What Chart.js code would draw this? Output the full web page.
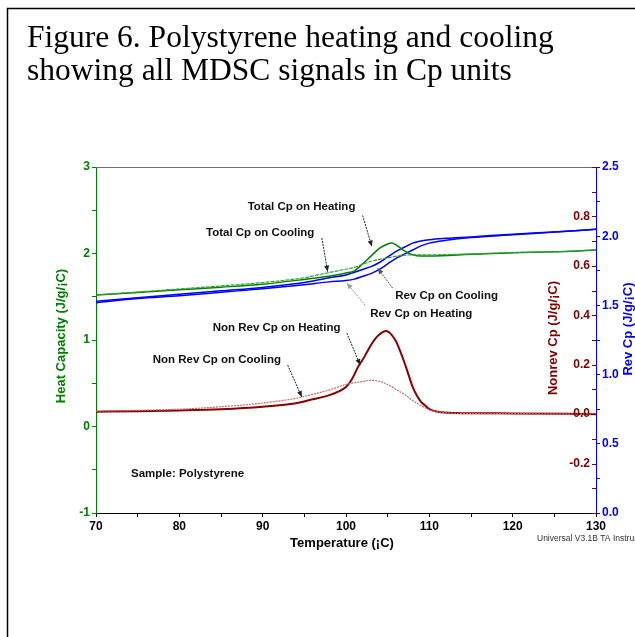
<!DOCTYPE html>
<html lang="en">
<head>
  <meta charset="UTF-8">
  <title>Polystyrene MDSC signals</title>
  <script src="https://cdn.jsdelivr.net/npm/chart.js"></script>
  <style>
    body { margin: 0; background: #fff; }
    canvas { display: block; }
  </style>
</head>
<body>
  <canvas id="mdscChart" width="635" height="637"></canvas>

  <script>
    // Total Cp (left axis, J/g/°C)
    const totalHeatTemp = [70, 75, 80, 85, 90, 95, 97, 99, 100, 101, 102, 103, 104, 105, 105.5, 106, 107, 108, 109, 110, 115, 120, 125, 130];
    const totalHeating  = [1.52, 1.55, 1.58, 1.61, 1.645, 1.70, 1.725, 1.755, 1.775, 1.80, 1.88, 1.97, 2.06, 2.11, 2.12, 2.10, 2.03, 1.985, 1.97, 1.97, 1.99, 2.01, 2.02, 2.04];
    const totalCoolTemp = [70, 75, 80, 85, 90, 95, 97, 99, 101, 103, 105, 107, 109, 110, 115, 120, 125, 130];
    const totalCooling  = [1.52, 1.555, 1.59, 1.625, 1.665, 1.72, 1.76, 1.80, 1.84, 1.91, 1.95, 1.98, 1.985, 1.985, 1.995, 2.01, 2.02, 2.04];

    // Reversing Cp (right axis)
    const revTemp    = [70, 75, 80, 85, 90, 95, 98, 100, 101, 102, 103, 104, 105, 106, 107, 108, 109, 110, 112, 115, 120, 125, 130];
    const revHeating = [1.52, 1.55, 1.57, 1.595, 1.62, 1.65, 1.67, 1.68, 1.69, 1.71, 1.73, 1.76, 1.80, 1.84, 1.87, 1.90, 1.93, 1.95, 1.97, 1.99, 2.01, 2.03, 2.05];
    const revCooling = [1.53, 1.555, 1.58, 1.605, 1.63, 1.665, 1.70, 1.72, 1.74, 1.76, 1.78, 1.81, 1.85, 1.89, 1.92, 1.95, 1.965, 1.975, 1.985, 1.995, 2.015, 2.03, 2.05];

    // Non-reversing Cp (inner right axis)
    const nonrevHeatTemp = [70, 75, 80, 85, 90, 94, 96, 98, 99, 100, 100.5, 101, 101.5, 102, 102.5, 103, 103.5, 104, 104.8, 105.5, 106, 106.5, 107, 107.5, 108, 108.5, 109, 109.5, 110, 111, 113, 120, 130];
    const nonrevHeating  = [0.01, 0.012, 0.015, 0.02, 0.03, 0.044, 0.06, 0.077, 0.09, 0.11, 0.13, 0.16, 0.195, 0.22, 0.25, 0.28, 0.305, 0.322, 0.336, 0.32, 0.295, 0.255, 0.21, 0.16, 0.11, 0.075, 0.05, 0.035, 0.02, 0.01, 0.005, 0.003, 0.0];
    const nonrevCoolTemp = [70, 80, 85, 90, 94, 96, 98, 100, 101, 102, 103, 104, 105, 106, 107, 108, 109, 110, 111, 113, 120, 130];
    const nonrevCooling  = [0.012, 0.02, 0.03, 0.045, 0.064, 0.08, 0.098, 0.12, 0.127, 0.132, 0.137, 0.133, 0.12, 0.10, 0.08, 0.055, 0.035, 0.018, 0.01, 0.004, 0.002, 0.0];

    // labelled ticks of the non-reversing axis
    const nonrevLabels = [-0.2, 0.0, 0.2, 0.4, 0.6, 0.8];

    const titleLines = ["Figure 6. Polystyrene heating and cooling", "showing all MDSC signals in Cp units"];

    // callouts: text anchor and arrow in (temperature, heat capacity) units
    const callouts = [
      { text: "Total Cp on Heating",   at: [88.2, 2.54], from: [102.0, 2.44], to: [103.1, 2.08], color: "#222" },
      { text: "Total Cp on Cooling",   at: [83.2, 2.24], from: [97.1, 2.18], to: [97.8, 1.79], color: "#222" },
      { text: "Rev Cp on Cooling",     at: [105.9, 1.51], from: [105.6, 1.60], to: [103.8, 1.83], color: "#555" },
      { text: "Rev Cp on Heating",     at: [102.9, 1.30], from: [102.3, 1.40], to: [100.1, 1.66], color: "#999" },
      { text: "Non Rev Cp on Heating", at: [84.0, 1.14], from: [100.1, 1.08], to: [101.7, 0.71], color: "#222" },
      { text: "Non Rev Cp on Cooling", at: [76.8, 0.77], from: [93.0, 0.71], to: [94.7, 0.34], color: "#222" },
      { text: "Sample: Polystyrene",   at: [74.2, -0.55] }
    ];

    const GREEN = "#008000", BLUE = "#0000ff", MAROON = "#800000";
    const SANS = "'Liberation Sans', Arial, sans-serif";
    const bold = (size) => ({ family: SANS, size: size, weight: "bold" });

    const pts = (xs, ys) => xs.map((x, i) => ({ x: x, y: ys[i] }));

    function arrow(ctx, x1, y1, x2, y2, color) {
      ctx.strokeStyle = color;
      ctx.fillStyle = color;
      ctx.lineWidth = 1;
      ctx.setLineDash([2, 1]);
      ctx.beginPath();
      ctx.moveTo(x1, y1);
      ctx.lineTo(x2, y2);
      ctx.stroke();
      ctx.setLineDash([]);
      const a = Math.atan2(y2 - y1, x2 - x1);
      ctx.beginPath();
      ctx.moveTo(x2, y2);
      ctx.lineTo(x2 - 6 * Math.cos(a) + 2.5 * Math.sin(a), y2 - 6 * Math.sin(a) - 2.5 * Math.cos(a));
      ctx.lineTo(x2 - 6 * Math.cos(a) - 2.5 * Math.sin(a), y2 - 6 * Math.sin(a) + 2.5 * Math.cos(a));
      ctx.closePath();
      ctx.fill();
    }

    function vText(ctx, text, x, y, color) {
      ctx.save();
      ctx.translate(x, y);
      ctx.rotate(-Math.PI / 2);
      ctx.fillStyle = color;
      ctx.textAlign = "center";
      ctx.textBaseline = "middle";
      ctx.fillText(text, 0, 0);
      ctx.restore();
    }

    const decorations = {
      id: "decorations",
      afterDraw(chart) {
        const ctx = chart.ctx;
        const { left, right, top, bottom } = chart.chartArea;
        const sx = chart.scales.x, sy = chart.scales.y, sn = chart.scales.yNon;
        ctx.save();

        // slide frame
        ctx.strokeStyle = "#000";
        ctx.lineWidth = 1.5;
        ctx.beginPath();
        ctx.moveTo(7.5, 640);
        ctx.lineTo(7.5, 8.5);
        ctx.lineTo(640, 8.5);
        ctx.stroke();

        // figure title
        ctx.fillStyle = "#000";
        ctx.font = "31.5px 'Liberation Serif', 'Times New Roman', serif";
        ctx.textAlign = "left";
        ctx.textBaseline = "alphabetic";
        ctx.fillText(titleLines[0], 27, 47);
        ctx.fillText(titleLines[1], 27, 80);

        // top border of the plot
        ctx.strokeStyle = "#707070";
        ctx.lineWidth = 1;
        ctx.beginPath();
        ctx.moveTo(left, top + 0.5);
        ctx.lineTo(right, top + 0.5);
        ctx.stroke();

        // non-reversing axis: ticks on the inside of the right edge
        ctx.strokeStyle = MAROON;
        for (let k = -4; k <= 10; k++) {
          const y = Math.round(sn.getPixelForValue(k / 10)) + 0.5;
          ctx.beginPath();
          ctx.moveTo(right - 4, y);
          ctx.lineTo(right, y);
          ctx.stroke();
        }
        ctx.font = "bold 12px " + SANS;
        ctx.fillStyle = MAROON;
        ctx.textAlign = "right";
        ctx.textBaseline = "middle";
        nonrevLabels.forEach(v => ctx.fillText(v.toFixed(1), right - 6, sn.getPixelForValue(v)));

        // axis titles
        ctx.font = "bold 13px " + SANS;
        vText(ctx, "Heat Capacity (J/g/¡C)", 61, 336, GREEN);
        vText(ctx, "Nonrev Cp (J/g/¡C)", 553, 338, MAROON);
        vText(ctx, "Rev Cp (J/g/¡C)", 628, 329, BLUE);
        ctx.fillStyle = "#000";
        ctx.textAlign = "center";
        ctx.textBaseline = "middle";
        ctx.fillText("Temperature (¡C)", (left + right) / 2 - 4, 543);

        ctx.font = "8.5px " + SANS;
        ctx.fillStyle = "#333";
        ctx.textAlign = "left";
        ctx.fillText("Universal V3.1B TA Instruments", 537, 539);

        // callouts
        callouts.forEach(c => {
          if (c.from) {
            arrow(ctx, sx.getPixelForValue(c.from[0]), sy.getPixelForValue(c.from[1]),
                  sx.getPixelForValue(c.to[0]), sy.getPixelForValue(c.to[1]), c.color);
          }
          ctx.font = "bold 11.5px " + SANS;
          ctx.fillStyle = "#111";
          ctx.textAlign = "left";
          ctx.textBaseline = "middle";
          ctx.fillText(c.text, sx.getPixelForValue(c.at[0]), sy.getPixelForValue(c.at[1]));
        });

        ctx.restore();
      }
    };

    const lineStyle = {
      pointRadius: 0,
      fill: false,
      cubicInterpolationMode: "monotone"
    };

    new Chart(document.getElementById("mdscChart"), {
      type: "line",
      data: {
        datasets: [
          { ...lineStyle, label: "Total Cp on Cooling", data: pts(totalCoolTemp, totalCooling), borderColor: "#3aa03a", borderWidth: 1.2, borderDash: [4, 1], yAxisID: "y" },
          { ...lineStyle, label: "Total Cp on Heating", data: pts(totalHeatTemp, totalHeating), borderColor: GREEN, borderWidth: 1.5, yAxisID: "y" },
          { ...lineStyle, label: "Rev Cp on Cooling", data: pts(revTemp, revCooling), borderColor: BLUE, borderWidth: 1.5, yAxisID: "yRev" },
          { ...lineStyle, label: "Rev Cp on Heating", data: pts(revTemp, revHeating), borderColor: BLUE, borderWidth: 1.5, yAxisID: "yRev" },
          { ...lineStyle, label: "Non Rev Cp on Cooling", data: pts(nonrevCoolTemp, nonrevCooling), borderColor: "#c46a6a", borderWidth: 1.2, borderDash: [2, 1], yAxisID: "yNon" },
          { ...lineStyle, label: "Non Rev Cp on Heating", data: pts(nonrevHeatTemp, nonrevHeating), borderColor: "#8b0000", borderWidth: 2, yAxisID: "yNon" }
        ]
      },
      options: {
        responsive: false,
        animation: false,
        layout: { padding: { top: 167, bottom: 94, left: 0, right: 0 } },
        plugins: { legend: { display: false }, tooltip: { enabled: false } },
        scales: {
          x: {
            type: "linear",
            position: "bottom",
            min: 70,
            max: 130,
            afterFit: s => { s.height = 30; },
            border: { color: "#000", width: 1 },
            grid: { drawOnChartArea: false, tickLength: 4, tickColor: "#000" },
            ticks: {
              stepSize: 5, autoSkip: false, maxRotation: 0, padding: 2,
              color: "#000", font: bold(12),
              callback: v => (v % 10 === 0 ? v : "")
            }
          },
          y: {
            type: "linear",
            position: "left",
            min: -1,
            max: 3,
            afterFit: s => { s.width = 96; },
            border: { color: GREEN, width: 1 },
            grid: { drawOnChartArea: false, tickLength: 4, tickColor: GREEN },
            ticks: {
              stepSize: 0.5, autoSkip: false, padding: 2,
              color: GREEN, font: bold(12),
              callback: v => (Number.isInteger(v) ? v : "")
            }
          },
          yRev: {
            type: "linear",
            position: "right",
            min: 0,
            max: 2.5,
            afterFit: s => { s.width = 39; },
            border: { color: BLUE, width: 1 },
            grid: { drawOnChartArea: false, tickLength: 4, tickColor: BLUE },
            ticks: {
              stepSize: 0.25, autoSkip: false, padding: 2,
              color: BLUE, font: bold(12),
              callback: v => (Math.abs(v * 2 - Math.round(v * 2)) < 1e-6 ? v.toFixed(1) : "")
            }
          },
          yNon: {
            type: "linear",
            position: "right",
            display: false,
            min: -0.4,
            max: 1.0
          }
        }
      },
      plugins: [decorations]
    });
  </script>
</body>
</html>
